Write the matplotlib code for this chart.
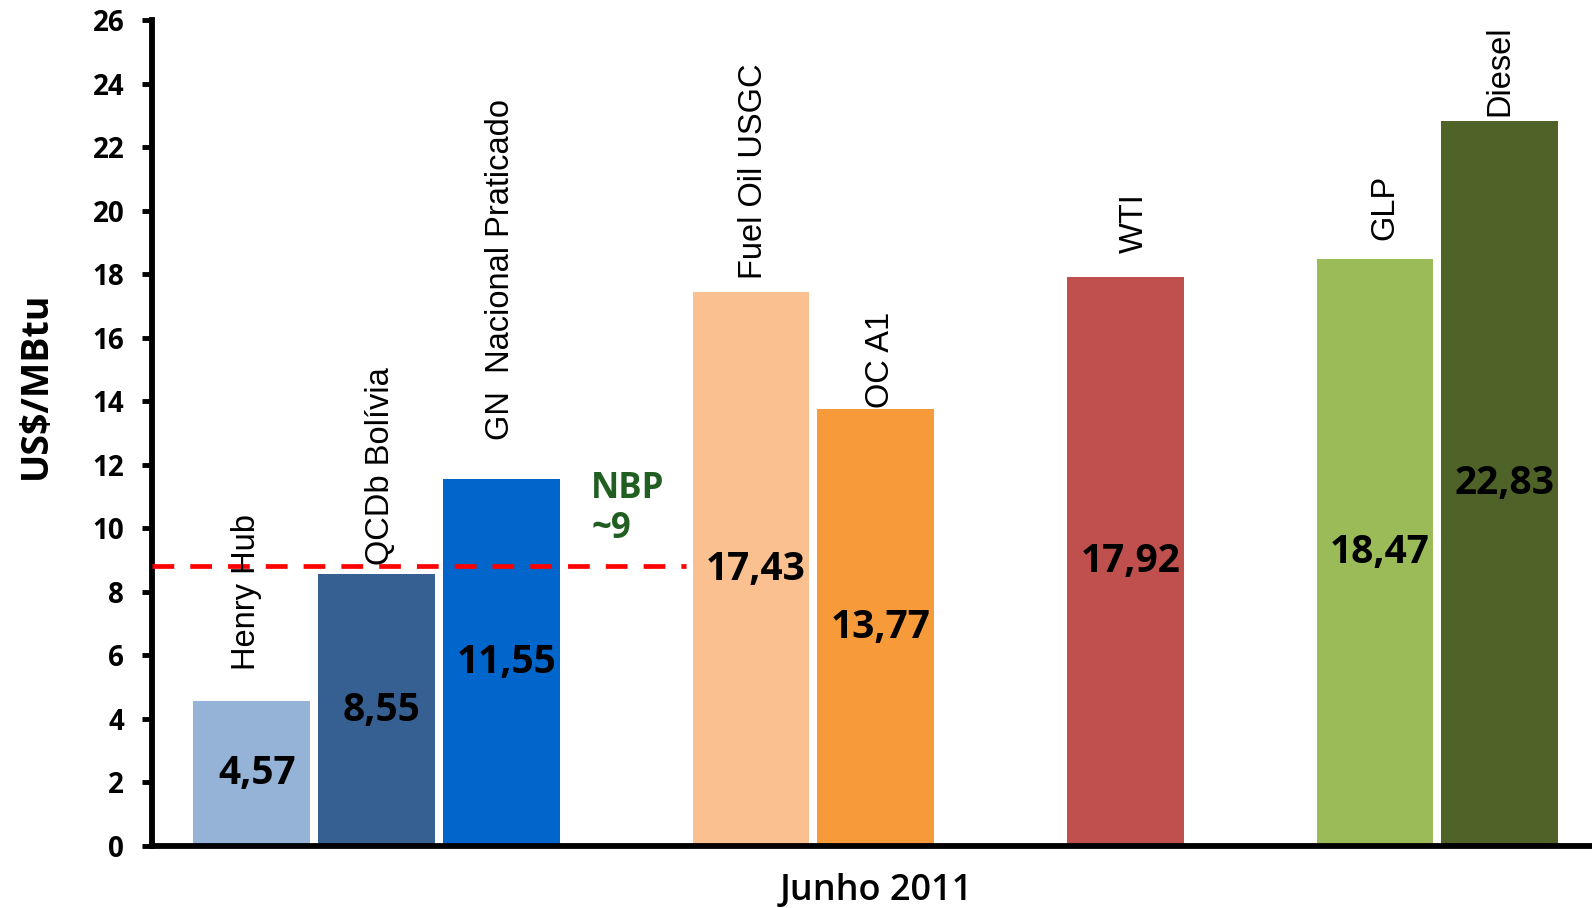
import matplotlib
matplotlib.use("Agg")
import matplotlib.pyplot as plt

# ---- data ----
categories = ["Henry Hub", "QCDb Bolívia", "GN  Nacional Praticado", "Fuel Oil USGC",
              "OC A1", "WTI", "GLP", "Diesel"]
values = [4.57, 8.55, 11.55, 17.43, 13.77, 17.92, 18.47, 22.83]
value_labels = ["4,57", "8,55", "11,55", "17,43", "13,77", "17,92", "18,47", "22,83"]
nbp_level = 8.8
nbp_text = "NBP\n~9"
x_title = "Junho 2011"
y_title = "US$/MBtu"
y_ticks = list(range(0, 27, 2))

# ---- layout / style ----
positions = [0, 1, 2, 4, 5, 7, 9, 10]
colors = ["#95B3D7", "#376092", "#0066CC", "#FAC090", "#F79A3A", "#C0504D", "#9BBB59", "#4F6228"]
label_gap = [0.96, 0.30, 1.22, 0.43, 0.03, 0.76, 0.59, 0.16]
label_dx = [-0.04, 0.03, -0.01, 0.02, 0.04, 0.07, 0.08, 0.0]

W, H = 1592, 908
fig = plt.figure(figsize=(W / 100, H / 100), dpi=100)
ax = fig.add_axes([152 / W, 1 - 846 / H, 1 - 152 / W, (846 - 20) / H])

bold_font = "Open Sans"

ax.bar(positions, values, width=0.935, color=colors, edgecolor="none", zorder=2)

for p, v, lab in zip(positions, values, value_labels):
    ax.text(p + 0.04, v / 2, lab, ha="center", va="center", fontsize=28,
            fontweight="bold", family=bold_font, color="black", zorder=4)

for p, v, cat, g, dx in zip(positions, values, categories, label_gap, label_dx):
    ax.text(p + dx, v + g, cat, rotation=90, ha="center", va="bottom",
            fontsize=23.5, family="Liberation Sans", color="black", zorder=4)

# NBP dashed line
ax.plot([-0.80, 3.48], [nbp_level, nbp_level], color="#FF0000", lw=3.4,
        dashes=(4.6, 3.4), zorder=3, clip_on=False,
        dash_capstyle="butt")
ax.text(2.72, 10.6, nbp_text, ha="left", va="center", fontsize=25,
        fontweight="bold", family=bold_font, color="#215E21", linespacing=1.15)

ax.set_xlim(-0.80, 10.74)
ax.set_ylim(0, 26)
ax.set_yticks(y_ticks)
ax.set_yticklabels([str(t) for t in y_ticks], fontsize=20, fontweight="bold",
                   family=bold_font)
ax.set_xticks([])
ax.tick_params(axis="y", length=7, width=3.5, pad=13, direction="out")
for s in ["top", "right"]:
    ax.spines[s].set_visible(False)
ax.spines["left"].set_linewidth(4.2)
ax.spines["bottom"].set_linewidth(4.2)

fig.text(36 / W, 1 - 385 / H, y_title, rotation=90, ha="center", va="center",
         fontsize=27, fontweight="bold", family=bold_font)
fig.text(876 / W, 1 - 891 / H, x_title, ha="center", va="center", fontsize=26,
         family=bold_font, fontweight="semibold")

fig.savefig("out.png", dpi=100)
